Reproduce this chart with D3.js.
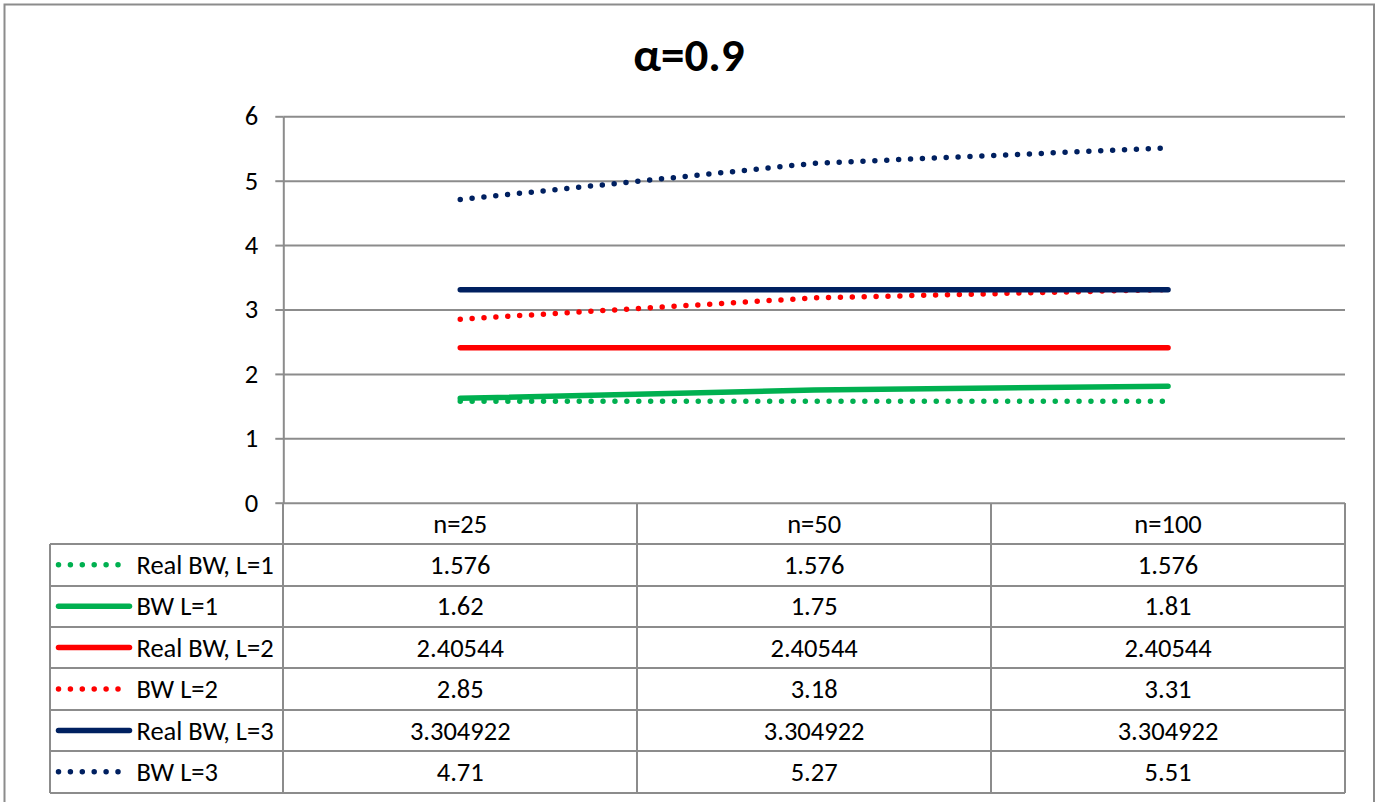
<!DOCTYPE html>
<html>
<head>
<meta charset="utf-8">
<script src="https://cdnjs.cloudflare.com/ajax/libs/d3/7.8.5/d3.min.js"></script>
<style>
  body { margin: 0; background: #fff; }
  svg text { font-family: Carlito, Lato, "Liberation Sans", sans-serif; fill: #000; }
</style>
</head>
<body>
<div id="container"></div>
<script>
var totalWidth = 1378,
    totalHeight = 802;

// 数据
var categories = ['n=25', 'n=50', 'n=100'];
var seriesNames = ['Real BW, L=1', 'BW L=1', 'Real BW, L=2', 'BW L=2', 'Real BW, L=3', 'BW L=3'];
var realBW1 = [1.576, 1.576, 1.576];
var bw1 = [1.62, 1.75, 1.81];
var realBW2 = [2.40544, 2.40544, 2.40544];
var bw2 = [2.85, 3.18, 3.31];
var realBW3 = [3.304922, 3.304922, 3.304922];
var bw3 = [4.71, 5.27, 5.51];
var seriesColors = ['#00B050', '#00B050', '#FF0000', '#FF0000', '#002060', '#002060'];
var seriesDotted = [true, false, false, true, false, true];
var yTicks = [0, 1, 2, 3, 4, 5, 6];
var title = 'α=0.9';

var series = seriesNames.map(function(name, i) {
  return {
    name: name,
    values: [realBW1, bw1, realBW2, bw2, realBW3, bw3][i],
    color: seriesColors[i],
    dotted: seriesDotted[i]
  };
});

var plot = {left: 283.3, right: 1345, top: 116.3, bottom: 502.7};
var tableBottom = 792.5,
    tableLeft = 50;
var gridColor = '#8c8c8c';
var fontSize = 26.5;

// 比例尺
var xScale = d3.scaleBand()
               .domain(categories)
               .range([plot.left, plot.right]);
var yScale = d3.scaleLinear()
               .domain([0, 6])
               .range([plot.bottom, plot.top]);
var rowScale = d3.scaleBand()
                 .domain(['header'].concat(seriesNames))
                 .range([plot.bottom, tableBottom]);

var svg = d3.select('#container')
            .append('svg')
            .attr('width', totalWidth)
            .attr('height', totalHeight);

// 外框
svg.append('rect')
   .attr('x', 4.5).attr('y', 4.5)
   .attr('width', 1369.5).attr('height', 810)
   .attr('fill', '#fff')
   .attr('stroke', gridColor)
   .attr('stroke-width', 2);

// 标题
svg.append('text')
   .attr('x', 689).attr('y', 71)
   .attr('text-anchor', 'middle')
   .attr('font-size', 47)
   .attr('font-weight', 'bold')
   .text(title);

// 网格线
svg.append('g')
   .attr('class', 'grid')
   .attr('transform', 'translate(' + plot.left + ',0)')
   .call(d3.axisLeft(yScale).tickValues(yTicks)
           .tickSize(-(plot.right - plot.left)).tickFormat(''))
   .call(function(g) {
     g.select('.domain').remove();
     g.selectAll('line').attr('stroke', gridColor).attr('stroke-width', 2);
   });

// y 轴
svg.append('g')
   .attr('class', 'y-axis')
   .attr('transform', 'translate(' + plot.left + ',0)')
   .call(d3.axisLeft(yScale).tickValues(yTicks).tickFormat(d3.format('d'))
           .tickSize(8).tickSizeOuter(0).tickPadding(17))
   .call(function(g) {
     g.select('.domain').attr('stroke', gridColor).attr('stroke-width', 2);
     g.selectAll('line').attr('stroke', gridColor).attr('stroke-width', 2);
     g.selectAll('text').attr('font-size', fontSize).attr('fill', '#000');
   });
svg.select('.y-axis').attr('font-family', null);

// 数据表
var table = svg.append('g').attr('class', 'table');
var lineAttrs = function(sel) {
  sel.attr('stroke', gridColor).attr('stroke-width', 2).attr('shape-rendering', 'crispEdges');
};
seriesNames.forEach(function(name) {
  table.append('line')
       .attr('x1', tableLeft).attr('x2', plot.right)
       .attr('y1', rowScale(name)).attr('y2', rowScale(name))
       .call(lineAttrs);
});
table.append('line')
     .attr('x1', tableLeft).attr('x2', plot.right)
     .attr('y1', tableBottom).attr('y2', tableBottom)
     .call(lineAttrs);
table.append('line')
     .attr('x1', tableLeft).attr('x2', tableLeft)
     .attr('y1', rowScale(seriesNames[0])).attr('y2', tableBottom)
     .call(lineAttrs);
table.append('line')
     .attr('x1', plot.left).attr('x2', plot.left)
     .attr('y1', plot.bottom).attr('y2', tableBottom)
     .call(lineAttrs);
categories.forEach(function(c) {
  var xr = xScale(c) + xScale.bandwidth();
  table.append('line')
       .attr('x1', xr).attr('x2', xr)
       .attr('y1', plot.bottom).attr('y2', tableBottom)
       .call(lineAttrs);
});

// 表头
table.selectAll('.head')
     .data(categories).enter()
     .append('text').attr('class', 'head')
     .attr('x', function(d) { return xScale(d) + xScale.bandwidth() / 2; })
     .attr('y', rowScale('header') + rowScale.bandwidth() / 2)
     .attr('dy', '0.35em')
     .attr('text-anchor', 'middle')
     .attr('font-size', fontSize)
     .text(function(d) { return d; });

// 表格数值
series.forEach(function(s) {
  var cy = rowScale(s.name) + rowScale.bandwidth() / 2;
  table.selectAll(null)
       .data(s.values).enter()
       .append('text')
       .attr('x', function(d, i) { return xScale(categories[i]) + xScale.bandwidth() / 2; })
       .attr('y', cy)
       .attr('dy', '0.35em')
       .attr('text-anchor', 'middle')
       .attr('font-size', fontSize)
       .text(function(d) { return String(d); });

  // 图例
  table.append('line')
       .attr('x1', 58.5).attr('x2', s.dotted ? 118 : 129.5)
       .attr('y1', cy).attr('y2', cy)
       .attr('stroke', s.color)
       .attr('stroke-width', 5.5)
       .attr('stroke-linecap', 'round')
       .attr('stroke-dasharray', s.dotted ? '0 11.9' : null);
  table.append('text')
       .attr('x', 136.5)
       .attr('y', cy)
       .attr('dy', '0.35em')
       .attr('font-size', fontSize)
       .text(s.name);
});

// 折线
var line = d3.line()
             .x(function(d, i) { return xScale(categories[i]) + xScale.bandwidth() / 2; })
             .y(function(d) { return yScale(d); });

svg.append('g')
   .attr('class', 'lines')
   .selectAll('path')
   .data(series).enter()
   .append('path')
   .attr('d', function(d) { return line(d.values); })
   .attr('fill', 'none')
   .attr('stroke', function(d) { return d.color; })
   .attr('stroke-width', 5.5)
   .attr('stroke-linecap', 'round')
   .attr('stroke-linejoin', 'round')
   .attr('stroke-dasharray', function(d) { return d.dotted ? '0 11.9' : null; });
</script>
</body>
</html>
